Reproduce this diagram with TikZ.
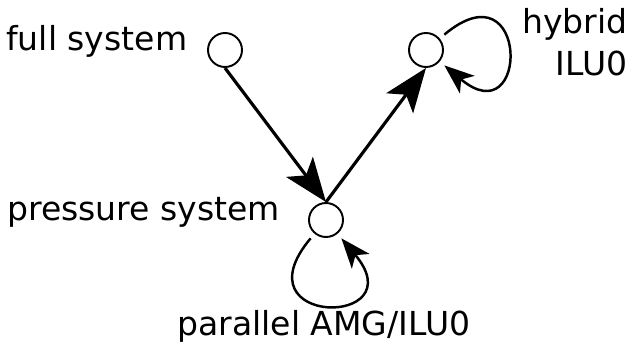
\documentclass[tikz,border=0pt]{standalone}
\usepackage{fontspec}
\setmainfont{DejaVu Sans}
\usepackage{tikz}
\usetikzlibrary{arrows.meta}
\tikzstyle{vertex}=[circle,fill=white,draw=black,line width=1.1pt,
  inner sep=0pt,minimum size=0.68cm]
\tikzstyle{textlabel}=[inner sep=0pt,font={\fontsize{18.8}{23.9}\selectfont}]
\tikzstyle{arrowedge}=[line width=1.8pt,-{Stealth[length=25pt,width=19pt,inset=6pt]}]
\tikzstyle{loopedge}=[line width=1.4pt,shorten <=3.4pt,shorten >=3.4pt,
  -{Stealth[length=17pt,width=13pt,inset=4.5pt]}]
\tikzstyle{none}=[]

\begin{document}
\begin{tikzpicture}
            \path [use as bounding box] (0, 0) rectangle (12.58, -6.84);
            \node [style=vertex] (0) at (4.5, -1) {};
            \node [style=vertex] (1) at (8.52, -1) {};
            \node [style=vertex] (2) at (6.52, -4.4) {};
            \node [style=textlabel, anchor=base west] (3) at (0.12, -1) {full system};
            \node [style=textlabel, anchor=base east, align=right] (4) at (12.56, -1.5) {hybrid\\ILU0};
            \node [style=textlabel, anchor=base west] (5) at (0.14, -4.4) {pressure system};
            \node [style=textlabel, anchor=base west] (6) at (3.54, -6.7) {parallel AMG/ILU0};
            \draw [style=arrowedge] (0.south) to (2.north);
            \draw [style=arrowedge] (2.north) to (1.south);
            \draw [style=loopedge, out=40, in=-40, distance=2.35cm] (1) to (1);
            \draw [style=loopedge, out=230, in=-50, distance=2.45cm] (2) to (2);
\end{tikzpicture}
\end{document}
